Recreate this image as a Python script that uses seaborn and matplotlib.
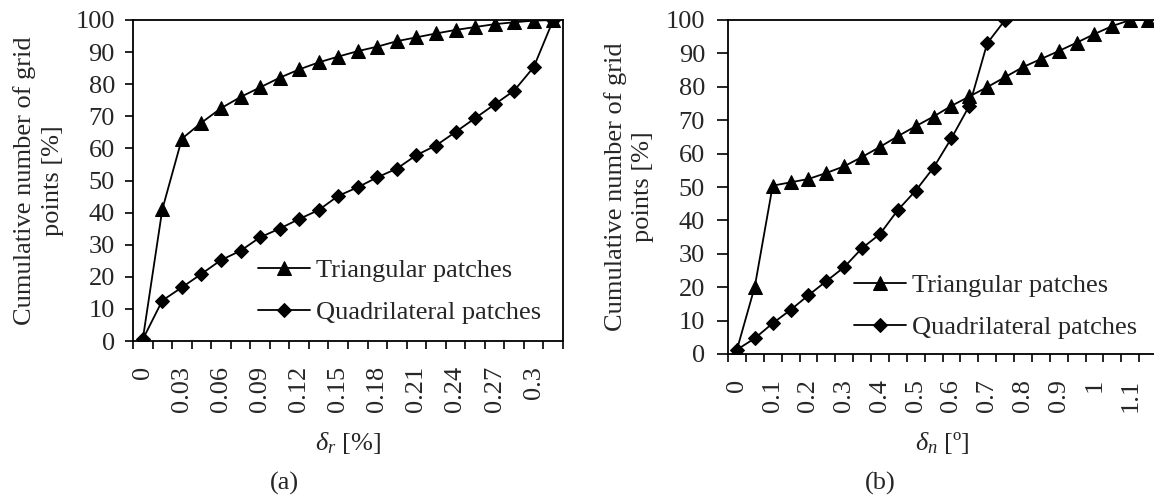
import matplotlib
matplotlib.use("Agg")
import matplotlib.pyplot as plt
import seaborn as sns
import pandas as pd

# ---------------- data ----------------
# (a) delta_r [%] categories
dr_x = [0.0, 0.015, 0.03, 0.045, 0.06, 0.075, 0.09, 0.105, 0.12, 0.135, 0.15,
        0.165, 0.18, 0.195, 0.21, 0.225, 0.24, 0.255, 0.27, 0.285, 0.3, 0.315]
dr_tri = [0.5, 41, 63, 68, 72.5, 76, 79, 82, 84.6, 86.8, 88.6,
          90.3, 91.7, 93.4, 94.6, 95.8, 96.9, 97.8, 98.7, 99.3, 99.8, 100]
dr_quad = [0.5, 12.6, 16.7, 20.9, 25.2, 28.1, 32.3, 35, 38, 40.8, 45.2,
           47.9, 51, 53.7, 57.9, 60.9, 65.1, 69.4, 73.7, 78, 85.3, 100]
dr_ticklabels = ["0", "0.03", "0.06", "0.09", "0.12", "0.15", "0.18", "0.21",
                 "0.24", "0.27", "0.3"]

# (b) delta_n [deg] categories
dn_x = [0.0, 0.05, 0.1, 0.15, 0.2, 0.25, 0.3, 0.35, 0.4, 0.45, 0.5, 0.55,
        0.6, 0.65, 0.7, 0.75, 0.8, 0.85, 0.9, 0.95, 1.0, 1.05, 1.1, 1.15]
dn_tri = [1.3, 20.2, 50.4, 51.4, 52.4, 54.2, 56.2, 59, 62, 65.2, 68.2, 71.1,
          74.3, 77.1, 79.9, 82.9, 85.9, 88.3, 90.7, 93.2, 95.8, 98.2, 100, 100]
dn_quad_x = [0.0, 0.05, 0.1, 0.15, 0.2, 0.25, 0.3, 0.35, 0.4, 0.45, 0.5, 0.55,
             0.6, 0.65, 0.7, 0.75]
dn_quad = [1.3, 4.7, 9.2, 13.2, 17.6, 21.8, 26, 31.7, 35.9, 43.1, 48.9, 55.8,
           64.6, 74.3, 93, 100]
dn_ticklabels = ["0", "0.1", "0.2", "0.3", "0.4", "0.5", "0.6", "0.7", "0.8",
                 "0.9", "1", "1.1"]

y_ticks = [0, 10, 20, 30, 40, 50, 60, 70, 80, 90, 100]
series_names = ["Triangular patches", "Quadrilateral patches"]

# ---------------- style ----------------
sns.set_theme(style="ticks")
plt.rcParams["font.family"] = ["Liberation Serif", "DejaVu Serif"]
plt.rcParams["mathtext.fontset"] = "custom"
plt.rcParams["mathtext.rm"] = "Liberation Serif"
plt.rcParams["mathtext.it"] = "Liberation Serif:italic"
FS = 19

W, H = 1154, 499
fig = plt.figure(figsize=(W / 100, H / 100), dpi=100)
fig.patch.set_facecolor("white")


def fx(px):
    return px / W


def fy(py):
    return 1 - py / H


def make_axes(l, r, t, b):
    return fig.add_axes([fx(l), fy(b), fx(r) - fx(l), fy(t) - fy(b)])


ax1 = make_axes(133, 563, 20, 341)
ax2 = make_axes(728, 1157, 20, 354)


def draw(ax, tx, ty, qx, qy, step, ticklabels, xlabel, ylabpad, ytickpad, ylen):
    sns.lineplot(x=tx, y=ty, ax=ax, color="black", linewidth=1.3, marker="^",
                 markersize=10, markeredgecolor="black", markerfacecolor="black",
                 label=series_names[0], sort=False, zorder=3)
    sns.lineplot(x=qx, y=qy, ax=ax, color="black", linewidth=1.3, marker="D",
                 markersize=7, markeredgecolor="black", markerfacecolor="black",
                 label=series_names[1], sort=False, zorder=4)
    ax.set_xlim(tx[0] - step / 2, tx[-1] + step / 2)
    ax.set_ylim(0, 100)
    ax.set_yticks(y_ticks)
    ax.set_yticklabels([str(v) for v in y_ticks], fontsize=FS)
    minor = [tx[0] - step / 2 + i * step for i in range(len(tx) + 1)]
    ax.set_xticks(minor, minor=True)
    ax.set_xticks(tx[::2])
    ax.set_xticklabels(ticklabels, rotation=90, fontsize=FS, va="top", ha="center")
    ax.tick_params(axis="x", which="major", length=0, pad=18)
    ax.tick_params(axis="x", which="minor", length=6, width=1.2, color="black",
                   direction="out")
    ax.tick_params(axis="y", length=ylen, width=1.2, color="black", direction="out",
                   pad=ytickpad)
    for s in ax.spines.values():
        s.set_color("black")
        s.set_linewidth(1.3)
        s.set_visible(True)
    ax.set_xlabel(xlabel, fontsize=FS, labelpad=13)
    ax.set_ylabel("Cumulative number of grid\npoints [%]", fontsize=FS,
                  labelpad=ylabpad, linespacing=1.35)
    ax.grid(False)
    ax.set_facecolor("white")


draw(ax1, dr_x, dr_tri, dr_x, dr_quad, 0.015, dr_ticklabels,
     r"$\delta_r$ [%]", 8, 7, 6)
draw(ax2, dn_x, dn_tri, dn_quad_x, dn_quad, 0.05, dn_ticklabels,
     r"$\delta_n$ [º]", 8, 8.5, 8)

leg_kw = dict(frameon=False, fontsize=FS, handlelength=1.97, handletextpad=0.23,
              labelspacing=0.68, borderaxespad=0, borderpad=0,
              bbox_transform=fig.transFigure, loc="upper left")
ax1.legend(bbox_to_anchor=(fx(258), fy(259)), **leg_kw)
ax2.legend(bbox_to_anchor=(fx(854), fy(274)), **leg_kw)

fig.text(fx(284), fy(483), "(a)", fontsize=FS, ha="center", va="center")
fig.text(fx(880), fy(483), "(b)", fontsize=FS, ha="center", va="center")

fig.savefig("out.png", dpi=100, facecolor="white")
